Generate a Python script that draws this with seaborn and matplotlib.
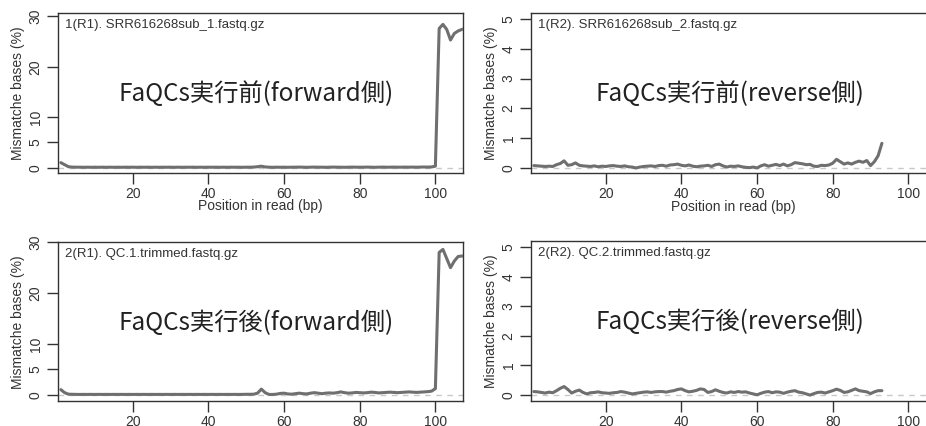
import matplotlib
matplotlib.use("Agg")
import matplotlib.pyplot as plt
import seaborn as sns
import pandas as pd

# ---------------- data ----------------
fwd_before = [1.0, 0.6, 0.2, 0.12, 0.1, 0.1, 0.08, 0.1, 0.08, 0.1,
              0.08, 0.1, 0.08, 0.1, 0.08, 0.1, 0.08, 0.1, 0.09, 0.1,
              0.08, 0.1, 0.09, 0.1, 0.08, 0.1, 0.08, 0.1, 0.09, 0.1,
              0.08, 0.1, 0.08, 0.1, 0.09, 0.1, 0.08, 0.1, 0.08, 0.1,
              0.09, 0.1, 0.08, 0.1, 0.08, 0.1, 0.09, 0.1, 0.08, 0.1,
              0.1, 0.12, 0.2, 0.3, 0.15, 0.1, 0.08, 0.1, 0.09, 0.1,
              0.08, 0.1, 0.1, 0.12, 0.1, 0.08, 0.1, 0.12, 0.1, 0.1,
              0.08, 0.1, 0.12, 0.1, 0.1, 0.08, 0.1, 0.12, 0.1, 0.1,
              0.1, 0.12, 0.1, 0.08, 0.1, 0.12, 0.1, 0.1, 0.12, 0.1,
              0.1, 0.12, 0.1, 0.12, 0.1, 0.12, 0.14, 0.12, 0.15, 0.3,
              27.6, 28.4, 27.4, 25.3, 26.6, 27.1, 27.4, 27.6]
fwd_after = [1.0, 0.4, 0.1, 0.08, 0.06, 0.05, 0.06, 0.05, 0.06, 0.05,
             0.06, 0.05, 0.06, 0.05, 0.06, 0.05, 0.06, 0.05, 0.06, 0.05,
             0.06, 0.05, 0.06, 0.05, 0.06, 0.05, 0.06, 0.05, 0.06, 0.05,
             0.06, 0.05, 0.06, 0.05, 0.06, 0.05, 0.06, 0.05, 0.06, 0.05,
             0.06, 0.05, 0.06, 0.05, 0.06, 0.05, 0.06, 0.05, 0.06, 0.08,
             0.08, 0.1, 0.3, 1.1, 0.4, 0.05, 0.05, 0.1, 0.25, 0.3,
             0.15, 0.1, 0.2, 0.3, 0.2, 0.15, 0.3, 0.4, 0.3, 0.2,
             0.3, 0.35, 0.3, 0.4, 0.55, 0.4, 0.3, 0.35, 0.45, 0.4,
             0.35, 0.4, 0.5, 0.45, 0.35, 0.4, 0.45, 0.5, 0.45, 0.4,
             0.45, 0.5, 0.55, 0.5, 0.45, 0.5, 0.55, 0.6, 0.7, 1.2,
             28.0, 28.6, 26.8, 25.0, 26.3, 27.2, 27.3, 27.3]
rev_before = [0.07, 0.06, 0.05, 0.04, 0.05, 0.04, 0.10, 0.14, 0.23, 0.08,
              0.10, 0.16, 0.08, 0.06, 0.05, 0.04, 0.06, 0.03, 0.05, 0.04,
              0.06, 0.07, 0.05, 0.04, 0.06, 0.03, 0.02, -0.01, 0.02, 0.04,
              0.05, 0.06, 0.04, 0.07, 0.08, 0.05, 0.09, 0.10, 0.12, 0.08,
              0.06, 0.09, 0.05, 0.03, 0.05, 0.06, 0.08, 0.04, 0.10, 0.12,
              0.06, 0.02, 0.05, 0.04, 0.06, 0.03, 0.01, 0.00, 0.02, -0.01,
              0.06, 0.10, 0.05, 0.08, 0.11, 0.07, 0.12, 0.06, 0.10, 0.17,
              0.15, 0.13, 0.10, 0.11, 0.05, 0.04, 0.08, 0.07, 0.09, 0.15,
              0.28, 0.20, 0.12, 0.16, 0.12, 0.18, 0.22, 0.18, 0.24, 0.07,
              0.20, 0.40, 0.82]
rev_after = [0.11, 0.10, 0.08, 0.06, 0.09, 0.07, 0.14, 0.22, 0.28, 0.18,
             0.06, 0.12, 0.16, 0.08, 0.03, 0.07, 0.08, 0.10, 0.07, 0.06,
             0.05, 0.07, 0.08, 0.11, 0.09, 0.06, 0.03, 0.05, 0.07, 0.09,
             0.10, 0.08, 0.10, 0.11, 0.11, 0.09, 0.12, 0.14, 0.18, 0.20,
             0.14, 0.10, 0.12, 0.15, 0.20, 0.18, 0.08, 0.11, 0.17, 0.12,
             0.08, 0.06, 0.10, 0.08, 0.11, 0.09, 0.10, 0.06, 0.03, 0.00,
             0.05, 0.09, 0.11, 0.07, 0.10, 0.09, 0.05, 0.09, 0.12, 0.14,
             0.09, 0.07, 0.03, -0.01, 0.04, 0.08, 0.09, 0.06, 0.10, 0.14,
             0.19, 0.15, 0.08, 0.10, 0.15, 0.20, 0.14, 0.12, 0.10, 0.04,
             0.10, 0.14, 0.14]

panel_titles = ["1(R1). SRR616268sub_1.fastq.gz", "1(R2). SRR616268sub_2.fastq.gz",
                "2(R1). QC.1.trimmed.fastq.gz", "2(R2). QC.2.trimmed.fastq.gz"]
overlay_texts = ["FaQCs実行前(forward側)", "FaQCs実行前(reverse側)",
                 "FaQCs実行後(forward側)", "FaQCs実行後(reverse側)"]
x_ticks = [20, 40, 60, 80, 100]
fwd_yticks = [0, 5, 10, 20, 30]
rev_yticks = [0, 1, 2, 3, 4, 5]
x_label = "Position in read (bp)"
y_label = "Mismatche bases (%)"

# ---------------- style ----------------
sns.set_theme(style="white")
plt.rcParams["font.family"] = ["Liberation Sans", "Noto Sans CJK JP", "DejaVu Sans"]

LINE = "#6f6f6f"
INK = "#333333"

W, H = 926, 426
fig = plt.figure(figsize=(W / 100, H / 100), dpi=100)


def box(l, t, r, b):
    return [l / W, (H - b) / H, (r - l) / W, (b - t) / H]


specs = [
    (fwd_before, box(58, 13.3, 463, 173), (-1.05, 30.6), fwd_yticks, True),
    (rev_before, box(531, 13.3, 936, 173.3), (-0.19, 5.2), rev_yticks, True),
    (fwd_after, box(58, 242.3, 463, 401.3), (-1.3, 29.9), fwd_yticks, False),
    (rev_after, box(531, 241.3, 936, 401.3), (-0.22, 5.2), rev_yticks, False),
]

for i, (vals, rect, ylim, yt, show_xlabel) in enumerate(specs):
    ax = fig.add_axes(rect)
    df = pd.DataFrame({"position": list(range(1, len(vals) + 1)), "mismatch": vals})
    ax.axhline(0, color="#c8c8c8", lw=1.0, ls=(0, (4, 4)), zorder=1)
    sns.lineplot(data=df, x="position", y="mismatch", ax=ax, color=LINE,
                 lw=2.2, zorder=3, legend=False)
    ax.set_xlim(0.25, 107.3)
    ax.set_ylim(*ylim)
    ax.set_xticks(x_ticks)
    ax.set_yticks(yt)
    ax.set_yticklabels([str(v) for v in yt], rotation=90, va="center")
    ax.tick_params(axis="both", bottom=True, left=True, length=8, width=1,
                   color=INK, labelcolor=INK, labelsize=10)
    ax.tick_params(axis="y", pad=3)
    ax.tick_params(axis="x", pad=2)
    for s in ax.spines.values():
        s.set_color(INK)
        s.set_linewidth(1.0)
    if show_xlabel:
        ax.set_xlabel(x_label, fontsize=10, color=INK)
        ax.xaxis.set_label_coords(0.5, -0.165)
    else:
        ax.set_xlabel("")
    ax.set_ylabel(y_label, fontsize=10, color=INK)
    ax.yaxis.label.set_va("center")
    ax.yaxis.set_label_coords(-0.099, 0.5)
    ax.text(0.017, 0.965, panel_titles[i], transform=ax.transAxes, ha="left",
            va="top", fontsize=9.5, color=INK)
    ax.text(0.49, 0.495, overlay_texts[i], transform=ax.transAxes, ha="center",
            va="center", fontsize=17.5, color="#222222",
            family=["Noto Sans CJK JP", "DejaVu Sans"])

fig.savefig("out.png", dpi=100)
